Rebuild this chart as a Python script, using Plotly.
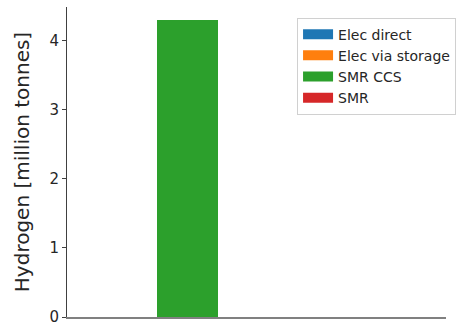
import plotly.graph_objects as go

# Hydrogen production by source (million tonnes), stacked
positions = [0]
series_names = ["Elec direct", "Elec via storage", "SMR CCS", "SMR"]
elec_direct = [0.0]
elec_via_storage = [0.0]
smr_ccs = [4.3]
smr = [0.0]
colors = ["#1f77b4", "#ff7f0e", "#2ca02c", "#d62728"]
y_ticks = [0, 1, 2, 3, 4]

fig = go.Figure()
for name, vals, col in zip(series_names, [elec_direct, elec_via_storage, smr_ccs, smr], colors):
    fig.add_trace(go.Bar(x=positions, y=vals, name=name, width=0.5, showlegend=False,
                         legendgroup=name,
                         marker=dict(color=col, line=dict(width=0))))
# wide rectangular legend swatches
for name, col in zip(series_names, colors):
    fig.add_trace(go.Scatter(x=[None], y=[None], mode="lines", name=name,
                             legendgroup=name, line=dict(color=col, width=10)))

fig.update_layout(
    barmode="stack",
    width=463, height=326,
    margin=dict(l=67, r=17, t=7, b=9, autoexpand=False),
    plot_bgcolor="white", paper_bgcolor="white",
    font=dict(family="DejaVu Sans", color="#262626"),
    showlegend=True,
    legend=dict(x=0.607, y=0.966, xanchor="left", yanchor="top",
                traceorder="normal",
                bordercolor="#d0d0d0", borderwidth=1, bgcolor="white",
                font=dict(size=14), tracegroupgap=0, itemwidth=30),
    xaxis=dict(range=[-0.988, 2.12], showticklabels=False, ticks="",
               showgrid=False, zeroline=False, showline=True,
               linecolor="#808080", linewidth=1.5),
    yaxis=dict(range=[0, 4.49], tickvals=y_ticks, showgrid=False, zeroline=False,
               showline=True, linecolor="#404040", linewidth=1,
               ticks="outside", ticklen=4, tickcolor="#404040",
               tickfont=dict(size=15), ticklabeloverflow="allow",
               title=dict(text="Hydrogen [million tonnes]", font=dict(size=20), standoff=14)),
)

fig.write_html("out.html")
